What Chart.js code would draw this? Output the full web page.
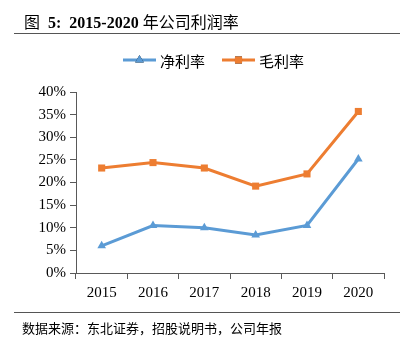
<!DOCTYPE html>
<html>
<head>
<meta charset="utf-8">
<script src="https://cdn.jsdelivr.net/npm/chart.js@4"></script>
<style>
    body { margin: 0; background: #fff; }
    #wrap { position: relative; width: 416px; height: 344px; overflow: hidden; }
    #chart { position: absolute; left: 0; top: 0; }
    .title { position: absolute; left: 24px; top: 9px; font: 16px "Liberation Serif", "Noto Sans CJK SC"; color: #000; white-space: nowrap; }
    .title b { font-family: "Liberation Serif"; }
    .rule { position: absolute; left: 14px; width: 386px; height: 0; border-top: 1.5px solid #555; }
    .source { position: absolute; left: 22px; top: 318px; font: 13px "Noto Sans CJK SC"; color: #000; white-space: nowrap; }
</style>
</head>
<body>
<div id="wrap">
    <canvas id="chart" width="416" height="344"></canvas>
    <div class="title">图&nbsp;&nbsp;<b>5:&nbsp;&nbsp;2015-2020</b> 年公司利润率</div>
    <div class="rule" style="top: 33px"></div>
    <div class="rule" style="top: 312px"></div>
    <div class="source">数据来源：东北证券，招股说明书，公司年报</div>
</div>
<script>
    // values, in percent
    let years = ["2015", "2016", "2017", "2018", "2019", "2020"];
    let netMargin = [6.0, 10.5, 10.0, 8.4, 10.5, 25.2];
    let grossMargin = [23.2, 24.4, 23.2, 19.2, 21.9, 35.7];
    let yTicks = [0, 5, 10, 15, 20, 25, 30, 35, 40];

    let axisColor = "#595959";
    let tickFont = { family: "Liberation Serif", size: 15 };

    // legend drawn as line + marker, like the original
    let lineLegend = {
        id: "lineLegend",
        afterDraw(chart) {
            let ctx = chart.ctx;
            let items = [
                { x: 123, ds: chart.data.datasets[0] },
                { x: 222, ds: chart.data.datasets[1] }
            ];
            ctx.save();
            items.forEach(item => {
                let y = 60;
                ctx.strokeStyle = item.ds.borderColor;
                ctx.lineWidth = 3;
                ctx.beginPath();
                ctx.moveTo(item.x, y);
                ctx.lineTo(item.x + 33, y);
                ctx.stroke();
                Chart.helpers.drawPoint(ctx, {
                    pointStyle: item.ds.pointStyle,
                    radius: item.ds.pointRadius,
                    rotation: 0,
                    borderWidth: 0
                }, item.x + 16.5, y);
                ctx.fillStyle = item.ds.pointBackgroundColor;
                ctx.fill();
                ctx.fillStyle = "#000";
                ctx.font = "15px 'Noto Sans CJK SC'";
                ctx.textBaseline = "middle";
                ctx.fillText(item.ds.label, item.x + 37, y + 1);
            });
            ctx.restore();
        }
    };

    new Chart(document.getElementById("chart"), {
        type: "line",
        data: {
            labels: years,
            datasets: [
                {
                    label: "净利率",
                    data: netMargin,
                    borderColor: "#5B9BD5",
                    backgroundColor: "#5B9BD5",
                    pointBackgroundColor: "#5B9BD5",
                    borderWidth: 3,
                    pointStyle: "triangle",
                    pointRadius: 5,
                    pointBorderWidth: 0,
                    tension: 0
                },
                {
                    label: "毛利率",
                    data: grossMargin,
                    borderColor: "#ED7D31",
                    backgroundColor: "#ED7D31",
                    pointBackgroundColor: "#ED7D31",
                    borderWidth: 3,
                    pointStyle: "rect",
                    pointRadius: 5,
                    pointBorderWidth: 0,
                    tension: 0
                }
            ]
        },
        options: {
            responsive: false,
            animation: false,
            layout: { padding: { top: 92, right: 32, left: 0, bottom: 0 } },
            plugins: { legend: { display: false }, tooltip: { enabled: false } },
            scales: {
                x: {
                    offset: true,
                    grid: { offset: true, drawOnChartArea: false, tickLength: 6, color: axisColor },
                    border: { color: axisColor, width: 1 },
                    ticks: { font: tickFont, color: "#000", padding: 5, maxRotation: 0 },
                    afterFit: s => { s.height = 71; }
                },
                y: {
                    min: 0,
                    max: 40,
                    afterBuildTicks: s => { s.ticks = yTicks.map(v => ({ value: v })); },
                    grid: { drawOnChartArea: false, tickLength: 6, color: axisColor },
                    border: { color: axisColor, width: 1 },
                    ticks: { font: tickFont, color: "#000", padding: 4, callback: v => v + "%" },
                    afterFit: s => { s.width = 76; }
                }
            }
        },
        plugins: [lineLegend]
    });
</script>
</body>
</html>
